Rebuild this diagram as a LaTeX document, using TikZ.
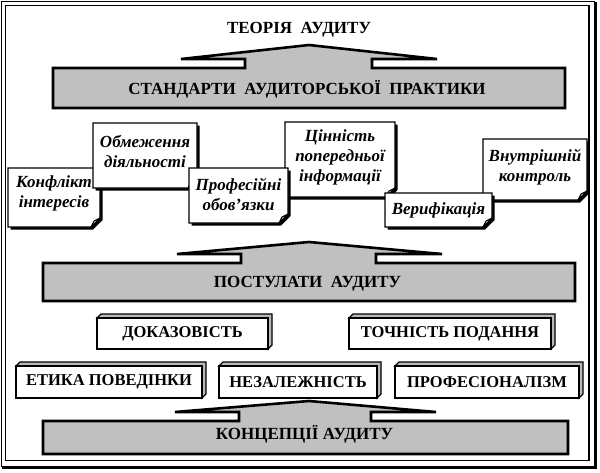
\documentclass[tikz,border=0pt]{standalone}
\usepackage{fontspec}
\setmainfont{Liberation Serif}
\usetikzlibrary{calc}
\definecolor{bargray}{RGB}{192,192,192}
\tikzset{
  bar/.style={fill=bargray, draw=black, line width=2.6pt, line join=miter},
  bartext/.style={font=\bfseries\fontsize{17}{20}\selectfont, inner sep=0pt},
  notebox/.style={fill=white, draw=black, line width=1.3pt, line join=miter},
  notetext/.style={font=\bfseries\itshape\fontsize{17}{20}\selectfont, align=center, inner sep=0pt},
  boxtext/.style={font=\bfseries\fontsize{16.5}{19}\selectfont, inner sep=0pt},
  bevel/.style={fill=gray!55, draw=black, line width=1.1pt, line join=miter},
  face/.style={fill=white, draw=black, line width=1.3pt},
}
\newcommand\mynote[4]{%
  \fill[black] ({#1+2.5},{#2+2.5}) -- ({#3+2.5},{#2+2.5}) -- ({#3+2.5},{#4-7}) -- ({#3-7},{#4+2.5}) -- ({#1+2.5},{#4+2.5}) -- cycle;
  \draw[notebox] (#1,#2) -- (#3,#2) -- (#3,{#4-9}) -- ({#3-9},#4) -- (#1,#4) -- cycle;
  \draw[fill=gray!40, draw=black, line width=1pt, line join=miter] ({#3-9},#4) -- ({#3-6},{#4-6}) -- (#3,{#4-9}) -- cycle;
}
\newcommand\mybevelbox[4]{%
  \draw[bevel] (#1,#2) -- ({#1+4},{#2-4}) -- ({#3+4},{#2-4}) -- ({#3+4},{#4-4}) -- (#3,#4) -- (#3,#2) -- cycle;
  \draw[face] (#1,#2) rectangle (#3,#4);
}
\begin{document}
\begin{tikzpicture}[x=1pt,y=-1pt]
\fill[white] (0,0) rectangle (600,472);
\useasboundingbox (0,0) rectangle (600,472);
% frame
\draw[line width=1.5pt] (1.5,1.5) rectangle (594.5,466.5);
\draw[line width=2pt] (596,2) -- (596,468) -- (2,468);
\draw[line width=1.5pt] (5.5,5.5) rectangle (589,460.5);

% title
\node[bartext] (teor) at (299,30) {ТЕОРІЯ\ \ АУДИТУ};

% arrow 1
\draw[bar] (53,68) -- (245,68) -- (245,59) -- (181,59) -- (309,45) -- (437,59) -- (372,59) -- (372,68) -- (565,68) -- (565,108) -- (53,108) -- cycle;
\node[bartext] (stand) at (307,89) {СТАНДАРТИ\ \ АУДИТОРСЬКОЇ\ \ ПРАКТИКИ};

% notes
\mynote{8}{168}{100}{227}
\node[notetext] (konf) at (54,193) {Конфлікт\\інтересів};
\mynote{93}{123}{197}{188}
\node[notetext] (obm) at (145,151) {Обмеження\\діяльності};
\mynote{285}{122}{395}{197}
\node[notetext] (tsin) at (340,157) {Цінність\\попередньої\\інформації};
\mynote{189}{168}{288}{223}
\node[notetext] (prof) at (238.5,194) {Професійні\\обов’язки};
\mynote{483}{139}{587}{200}
\node[notetext] (vnut) at (535,167) {Внутрішній\\контроль};
\mynote{385}{193}{492}{227}
\node[notetext] (ver) at (438.5,210) {Верифікація};

% arrow 2
\draw[bar] (43,263) -- (241,263) -- (241,254) -- (177,254) -- (309,242) -- (442,254) -- (376,254) -- (376,263) -- (575,263) -- (575,301) -- (43,301) -- cycle;
\node[bartext] (post) at (307.5,284) {ПОСТУЛАТИ\ \ АУДИТУ};

% 3D boxes
\mybevelbox{97}{318}{268}{349}
\node[boxtext] (dok) at (182.5,334) {ДОКАЗОВІСТЬ};
\mybevelbox{349}{318}{551}{349}
\node[boxtext] (toch) at (450,334) {ТОЧНІСТЬ ПОДАННЯ};
\mybevelbox{16}{366}{202}{398}
\node[boxtext] (etyka) at (109,382) {ЕТИКА ПОВЕДІНКИ};
\mybevelbox{219}{366}{377}{398}
\node[boxtext] (nezal) at (298,382) {НЕЗАЛЕЖНІСТЬ};
\mybevelbox{395}{366}{579}{398}
\node[boxtext] (profes) at (487,382) {ПРОФЕСІОНАЛІЗМ};

% arrow 3
\draw[bar] (43,421) -- (239,421) -- (239,412) -- (175,412) -- (309,401) -- (436,412) -- (371,412) -- (371,421) -- (568,421) -- (568,454) -- (43,454) -- cycle;
\node[bartext] (konts) at (304.5,434) {КОНЦЕПЦІЇ АУДИТУ};
\end{tikzpicture}
\end{document}
